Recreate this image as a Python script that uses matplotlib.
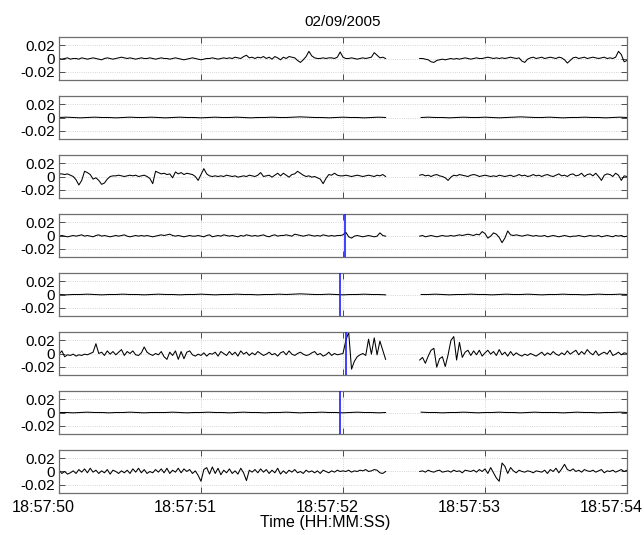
import numpy as np
import matplotlib
matplotlib.use("Agg")
from matplotlib import pyplot as plt
from matplotlib.transforms import ScaledTranslation

plt.rcParams['font.family'] = ['Liberation Sans', 'DejaVu Sans']

title = "02/09/2005"
xlabel = "Time (HH:MM:SS)"
tick_secs = [50, 51, 52, 53, 54]
tick_labels = ["18:57:50", "18:57:51", "18:57:52", "18:57:53", "18:57:54"]
ytick_vals = [-0.02, 0, 0.02]
ytick_labels = ["-0.02", "0", "0.02"]

# sample times (seconds after 18:57:00); data gap between the two segments
t_a = np.round(np.arange(50.00, 52.301, 0.02), 3)   # 116 samples
t_b = np.round(np.arange(52.54, 54.001, 0.02), 3)   # 74 samples
t_a_flat = np.round(np.arange(50.00, 52.301, 0.05), 3)  # 47 samples
t_b_flat = np.round(np.arange(52.55, 54.001, 0.05), 3)  # 30 samples

# values in thousandths
ch1_a = [0, -1, 0, 1, -1, 0, 0, -1, 1, 0,
         -1, 0, 1, 0, -1, -2, 0, 1, 0, -1,
         0, 1, 2, 1, 0, 1, 0, -1, 0, 1,
         0, 0, 1, 0, -1, 0, 1, 0, 0, -1,
         0, 1, 0, -1, -2, -1, 0, 1, 0, -1,
         -2, -1, 0, 0, 1, 0, -1, 0, 1, 0,
         1, 0, 2, 1, 0, 3, 5, 1, 2, 0,
         2, 1, 3, 0, 2, -1, 3, 1, -2, 2,
         0, 3, 2, 1, -3, -6, -2, 3, 11, 4,
         1, 0, 0, 1, 0, 1, 1, 0, 2, 10,
         2, 0, 0, 1, 0, -1, 0, 1, 0, 1,
         2, 9, 5, 1, 2, 0]
ch1_b = [0, 0, -1, -2, -5, -6, -3, -2, -1, -2,
         -1, 0, -1, 0, -1, 0, 1, 0, -1, 0,
         1, 0, 0, 1, 2, 1, 0, 1, 0, 1,
         0, 1, 2, 1, 0, 1, -4, -6, -1, 1,
         2, 0, 1, 2, 0, 1, 2, 1, 0, 2,
         1, -2, -7, -3, 1, 2, 0, 1, 2, 0,
         1, 2, 1, 0, 1, 2, 0, 1, 0, 2,
         11, 6, -5, -3]

ch2_a = [0, 0.5, 0, -0.5, 0, 0.5, 0, 0, -0.5, 0,
         0.5, 0, 0, 0.5, 0, -0.5, 0, 0.5, 0, 0,
         -0.5, 0, 0.5, 0, 0, 0.5, 0, -0.5, 0, 0,
         0.5, 0, 0, 0.5, 1, 0.5, 0, 0, -0.5, 0,
         0.5, 0, 0, -0.5, 0, 0.5, 0]
ch2_b = [0, 0.5, 0, 0, -0.5, 0, 0.5, 0, 0, 0.5,
         0, -0.5, 0, 0.5, 1, 0.5, 0, 0, 0.5, 0,
         -0.5, 0, 0, 0.5, 0, 0, -0.5, 0, 0.5, 0]

ch3_a = [4, 4, 3, 4, 2, 0, -5, -13, -6, 8,
         6, 3, -4, -2, -6, -12, -10, -4, 0, 1,
         1, 2, 1, 0, 1, 2, 1, 2, 0, 1,
         2, 0, -3, -11, 8, 6, 4, 5, 3, 4,
         -2, 7, 4, 6, 3, 5, 4, 3, 0, -6,
         3, 12, 4, 1, 0, 1, 0, 1, 0, 2,
         1, 0, 1, -1, 0, 1, 0, 2, 1, 0,
         2, 6, 0, 1, 2, -1, 2, 5, 1, 5,
         2, -1, 3, 4, 8, 5, 2, 0, 1, -1,
         0, -2, -4, -11, -3, 3, 2, 5, 2, 1,
         1, 2, 1, 0, 1, 2, 1, 0, 1, 2,
         1, 0, 2, 1, 3, 0]
ch3_b = [2, 3, 1, 2, 0, 2, 3, 1, 0, -2,
         -6, -1, 2, 1, 3, 2, 1, 0, 2, 3,
         2, 0, 1, 2, 1, 0, 1, 0, 2, 1,
         0, 1, 2, 0, 1, 3, 1, 2, 0, 1,
         3, 1, 2, 0, 2, 3, 1, 0, 2, 4,
         1, 2, 0, 3, 4, 1, 2, 5, 0, 3,
         4, 1, 5, 0, -6, 2, 4, 3, 0, 5,
         2, -6, 1, 0]

ch4_a = [-1, 0, -1, -2, -1, 0, -1, 0, 1, -1,
         0, -1, -2, 0, 1, -1, 0, -1, -2, -1,
         0, -1, 0, 1, -1, -2, -1, 0, -1, 0,
         -1, 0, -1, -2, -1, 0, 1, 0, 1, 2,
         0, -1, 0, -1, -2, -1, 0, -1, -1, 0,
         -1, -2, 0, 1, -2, -1, 0, -1, 1, 0,
         -1, 0, -1, -2, 0, -1, 1, 0, -1, 0,
         -1, 0, 1, -1, -2, 0, 1, -1, 0, 0,
         1, 0, -1, 2, 1, 0, -1, 0, 1, 0,
         -1, 0, -1, 1, 0, -1, 0, -1, 0, 0,
         1, 5, -2, -4, -1, 0, -1, -2, -1, 0,
         -1, -2, -1, 4, 0, -1]
ch4_b = [-1, 0, -2, -1, 0, -1, -2, -1, 0, -1,
         -1, 0, -1, 0, 1, 0, 1, 2, 1, 0,
         2, 1, 6, 3, -4, -1, 4, 2, -3, -11,
         -4, 7, 1, 0, 1, 0, -1, 0, 1, 0,
         -1, 0, -1, -1, 0, -2, -1, 0, -1, -2,
         -1, 0, -1, -2, -1, -1, 0, -1, -2, -1,
         0, -1, -1, 0, -2, -1, 0, -1, -2, 0,
         -1, 0, -2, -1]

ch5_a = [0, -0.5, 0, 0, 0.5, 0, -0.5, 0, 0, 0.5,
         0, 0, -0.5, 0, 0.5, 0, 0, -0.5, 0, 0,
         0.5, 0, -0.5, 0, 0, 0.5, 0, 0, -0.5, 0,
         0, 0.5, 0, 0.5, 1, 0.5, 0, 0, 0.5, 0,
         -0.5, 0, 0, 0.5, 0, 0, -0.5]
ch5_b = [0, 0, 0.5, 0, -0.5, 0, 0, 0.5, 0, 0,
         -0.5, 0, 0.5, 0, 0, 0.5, 0, -0.5, 0, 0,
         0.5, 0, 0, -0.5, 0, 0.5, 0, 0, 0.5, 0]

ch6_a = [-1, 4, -5, -2, -3, -1, -4, -2, -3, -1,
         -2, 0, 2, 15, 0, 2, -3, 4, -1, 3,
         -2, 2, 6, -3, 3, 0, 4, -2, -3, 1,
         10, 2, -1, -3, 0, -2, 3, -5, -9, 2,
         -3, 4, -9, 3, -8, 2, 4, -2, -4, -1,
         -3, 1, -4, 0, -1, 2, -4, 3, 0, -3,
         3, -2, 2, -4, 4, -1, 2, -3, 1, -2,
         3, 0, -3, -1, 2, -2, 0, -4, 1, 3,
         -2, 4, -1, -3, 0, 2, -1, -3, -2, 1,
         3, -2, 0, -4, -2, 2, -3, 0, -2, -1,
         0, 20, 33, -24, -12, -5, -2, 0, -3, 22,
         -1, 24, -2, 19, 5, -9]
ch6_b = [-10, -6, -15, -4, 5, 8, -21, -8, -5, -20,
         -2, 20, 26, -10, 17, -6, 2, 5, -3, 4,
         -2, 5, -4, 1, 5, -1, 3, -3, 6, -2,
         2, -4, 3, -3, 1, -2, -4, -1, -3, 0,
         -2, -4, -1, 2, -3, 1, -2, 3, -1, -3,
         1, -2, 4, -1, 2, 5, -2, 3, -1, 6,
         1, -2, 4, -3, 0, 2, -1, 5, -3, -1,
         2, -2, 1, 0]

ch7_a = [0, 0, -0.5, 0, 0.5, 0, 0, -0.5, 0, 0,
         0.5, 0, -0.5, 0, 0, 0, 0.5, 0, -0.5, 0,
         0, 0.5, 0, 0, -0.5, 0, 0.5, 0, 0, -0.5,
         0, 0, 0.5, 0, -0.5, 0, 0, 0.5, 0, 0,
         -0.5, 0, 0.5, 0, 0, -0.5, 0]
ch7_b = [0.5, 0, 0, -0.5, 0, 0, 0.5, 0, -0.5, 0,
         0, 0.5, 0, 0, -0.5, 0, 0.5, 0, 0, 0,
         -0.5, 0, 0.5, 0, 0, -0.5, 0, 0, 0.5, 0]

ch8_a = [2, -3, 0, -4, -2, 1, -3, 3, -1, 4,
         -2, 5, -1, 2, -3, 1, -2, 3, -4, 2,
         0, -3, 1, -2, 2, -3, 4, -1, 5, -2,
         3, -3, 0, -2, 3, -1, 4, -2, 5, -3,
         2, -1, 5, -2, 4, 0, 3, -3, 1, -6,
         -15, 3, 6, -4, 7, -3, 5, -5, 2, -2,
         4, -3, 1, -4, 5, -2, -14, 2, -1, 3,
         -2, 4, -1, 3, -3, 2, -2, 5, -4, 1,
         -3, 2, -1, 3, -2, 0, -3, 2, -1, 1,
         -2, 1, -3, 2, 0, -2, 1, -1, 2, 0,
         1, 0, 2, -1, 1, 0, 2, 1, 3, 0,
         1, 3, 2, -2, -3, 0]
ch8_b = [0, 1, -1, 2, 0, -1, 1, 2, -1, 0,
         1, -1, 2, 0, 1, -2, 2, 1, 0, 2,
         -1, 3, 0, 4, -3, 6, -2, -10, -15, 13,
         8, -3, 6, 1, -2, 2, 0, -1, 1, 0,
         -2, 1, 0, -1, 2, -3, 3, 0, 5, -2,
         4, 11, 3, 1, 4, 0, 2, -1, 3, 1,
         0, 2, -1, 1, 3, -2, 1, 0, 2, -1,
         1, 3, 0, 2]

channels = [
    (t_a, ch1_a, t_b, ch1_b),
    (t_a_flat, ch2_a, t_b_flat, ch2_b),
    (t_a, ch3_a, t_b, ch3_b),
    (t_a, ch4_a, t_b, ch4_b),
    (t_a_flat, ch5_a, t_b_flat, ch5_b),
    (t_a, ch6_a, t_b, ch6_b),
    (t_a_flat, ch7_a, t_b_flat, ch7_b),
    (t_a, ch8_a, t_b, ch8_b),
]
# blue markers (time in s), None where the panel has none
markers = [None, None, None, 52.016, 51.98, 52.02, 51.98, None]

W, H = 644, 535
fig = plt.figure(figsize=(W / 100, H / 100), dpi=100)

left, right = 59, 627
top0, step, height = 37, 59.0, 43
axes = []
for k, (ta, ya, tb, yb) in enumerate(channels):
    top = top0 + k * step
    ax = fig.add_axes([left / W, 1 - (top + height) / H, (right - left) / W, height / H])
    ax.plot(ta, np.array(ya) * 1e-3, color='black', lw=0.75)
    ax.plot(tb, np.array(yb) * 1e-3, color='black', lw=0.75)
    if markers[k] is not None:
        ax.axvline(markers[k], color='#2020ff', lw=1.2, zorder=3)
    ax.set_xlim(50, 54)
    ax.set_ylim(-0.033, 0.033)
    ax.set_yticks(ytick_vals)
    ax.set_yticklabels(ytick_labels, fontsize=11)
    ax.set_xticks(tick_secs)
    if k == len(channels) - 1:
        ax.set_xticklabels(tick_labels, fontsize=11.6)
    else:
        ax.set_xticklabels([])
    ax.tick_params(direction='in', length=4, width=0.6, color='#333333',
                   top=True, right=True, labelcolor='black')
    ax.tick_params(axis='y', pad=3)
    ax.tick_params(axis='x', pad=5)
    ax.grid(True, linestyle=':', color='#c8c8c8', lw=0.6)
    for sp in ax.spines.values():
        sp.set_color('#6e6e6e')
        sp.set_linewidth(0.9)
    axes.append(ax)

# time labels sit a little left of their ticks, as in the original
shift = ScaledTranslation(-16 / 100, 0, fig.dpi_scale_trans)
for lab in axes[-1].get_xticklabels():
    lab.set_transform(lab.get_transform() + shift)

axes[0].set_title(title, fontsize=11, pad=8)
axes[-1].set_xlabel(xlabel, fontsize=11.5, labelpad=0)
axes[-1].xaxis.label.set_transform(axes[-1].xaxis.label.get_transform() + ScaledTranslation(-18 / 100, 0, fig.dpi_scale_trans))

fig.savefig("out.png", dpi=100)
